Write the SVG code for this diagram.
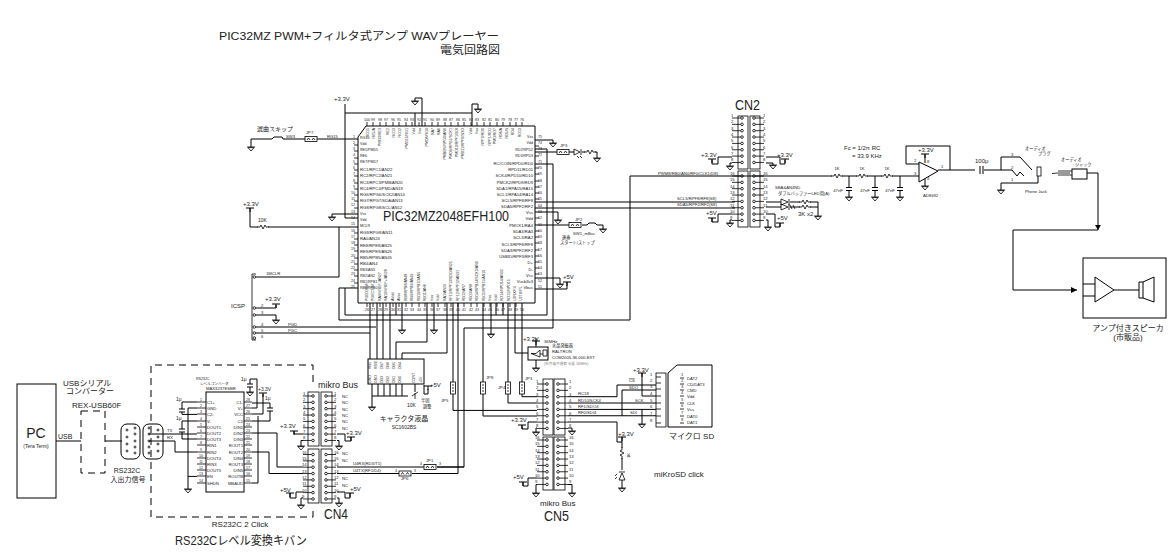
<svg xmlns="http://www.w3.org/2000/svg" width="1172" height="556" viewBox="0 0 1172 556">
<style>
text{font-family:"Liberation Sans","Noto Sans CJK JP",sans-serif;fill:#222}
.w{fill:none;stroke:#000;stroke-width:1}
.n{fill:none;stroke:#000;stroke-width:.8}
.b{fill:#fff;stroke:#000;stroke-width:1}
.d{fill:none;stroke:#000;stroke-width:1;stroke-dasharray:7 5}
.t3{font-size:3.6px}.t4{font-size:4.2px}.t5{font-size:5px}.t6{font-size:6px}.t7{font-size:7px}.t8{font-size:8px}.t9{font-size:9px}.t10{font-size:10px}.t11{font-size:11px}.t12{font-size:12px}.t14{font-size:14px}.t16{font-size:16px}
.m{text-anchor:middle}.e{text-anchor:end}
.k{fill:#000}
</style>
<defs>
<path id="gnd" class="n" d="M-4 0H4M-3 .6H3L0 4Z"/>
<path id="pwr" class="w" d="M-4 0H4M0 0V4"/>
<path id="rh" class="n" d="M-6 0H-3L-2 -2L0 2L2 -2L3 0H6"/>
<path id="rv" class="n" d="M0 -6V-3L-2 -2L2 0L-2 2L0 3V6"/>
<path id="cv" class="w" d="M-3 -1.5H3M-3 1.5H3"/>
<g id="jh"><rect class="n" x="0" y="-2.500" width="12" height="5" fill="#fff"/><path class="n" d="M2 1L3.500 -1L5 1M7 1L8.500 -1L10 1"/></g>
<g id="jv"><rect class="n" x="-2.500" y="-6" width="5" height="12" fill="#fff"/><path class="n" d="M-1 -3H1M-1 0H1M-1 3H1"/></g>
<path id="stL" class="n" d="M-10 0H-1.300M-1.300 0a1.300 1.300 0 1 0 2.600 0a1.300 1.300 0 1 0 -2.600 0"/>
<path id="stR" class="n" d="M10 0H1.300M-1.300 0a1.300 1.300 0 1 0 2.600 0a1.300 1.300 0 1 0 -2.600 0"/>
<g id="hL"><use href="#stL"/><use href="#stL" y="6.35"/><use href="#stL" y="12.7"/><use href="#stL" y="19.05"/><use href="#stL" y="25.4"/><use href="#stL" y="31.75"/><use href="#stL" y="38.1"/><use href="#stL" y="44.45"/></g>
<g id="hR"><use href="#stR"/><use href="#stR" y="6.35"/><use href="#stR" y="12.7"/><use href="#stR" y="19.05"/><use href="#stR" y="25.4"/><use href="#stR" y="31.75"/><use href="#stR" y="38.1"/><use href="#stR" y="44.45"/></g>
<g id="nU" class="t4"><text y="-1">1</text><text y="5.4">2</text><text y="11.7">3</text><text y="18">4</text><text y="24.4">5</text><text y="30.7">6</text><text y="37.1">7</text><text y="43.4">8</text></g>
<g id="nD" class="t4"><text y="-1">16</text><text y="5.4">15</text><text y="11.7">14</text><text y="18">13</text><text y="24.4">12</text><text y="30.7">11</text><text y="37.1">10</text><text y="43.4">9</text></g>
</defs>

<g id="title">
<text class="t11" x="219" y="40" textLength="280" lengthAdjust="spacingAndGlyphs">PIC32MZ PWM+フィルタ式アンプ WAVプレーヤー</text>
<text class="t11" x="440" y="54" textLength="60" lengthAdjust="spacingAndGlyphs">電気回路図</text>
</g>

<g id="connectors">
<path class="w" d="M345 104V218H358M345 113H472M415 113V126M422 126V98H415V101M472 126V104H478V109"/>
<path class="w" d="M251 139V147M251 139H272M283 139H305M317 139H358"/>
<path class="w" d="M250 208V227H258M268 227H358M332 214H358M332 214V217M339 227V277H256"/>
<path class="w" d="M358 288H339V320H630V176H832M842 176H857M867 176H882M892 176H919M345 288V315H547M547 149V315M535 149H547"/>
<path class="w" d="M535 140H553V143M535 152H557M569 152H574M582 152H585M595 152H597V158M535 164H553V328H464V467H437"/>
<path class="w" d="M535 212H558V220M535 225H569M582 225H587M597 225H603V229M535 202H735M535 208H735M535 278H560V284M535 289H567V282"/>
<path class="w" d="M370 303V359M377 303V359M383 303V359M390 303V359M427 303V342H396V359M447 303V353H402V359M453 303V382M453 394V410.4H537M458 303V473.5H412M483 303V382M483 394V416H537M508 303V382M508 394V403H537M522 303V382M522 394V396.7H537M515 303V353H528"/>
<path class="w" d="M402 303V330M434 303V330M491 303V334M396 303V315M496 303V315M503 303V315"/>
<path class="w" d="M256 327H376M256 333H370"/>
<path class="w" d="M256 308H276V305M256 315H276V320"/>
<path class="w" d="M732 157H718V164H712V160M766 157H780V164H785V160M732 163H730V166M766 163H773V165M732 214H718V222H712V218M732 220H730V223M766 220H768V227M766 214H775V227H780V223"/>
<path class="w" d="M766 202H781M766 207H781M790 202H800M790 207H800M810 202H818V216M810 207H818"/>
<path class="w" d="M849 176V187M849 191V197M875 176V187M875 191V197M900 176V187M900 191V197"/>
<path class="w" d="M919 164H906V146H950V170M938 170H975M984 170H1001V157H1020L1032 170M1001 170H1012L1017 176L1020 172L1024 176M1001 183H1038V176M1001 183V190"/>
<path class="w" d="M925 154V163M925 179V186"/>
<path class="w" d="M1087 173H1098V230H1013V290H1077"/>
<path class="k" d="M1095 225H1101L1098 230ZM1071 287L1077 290L1071 293Z"/>
<path class="w" d="M56 441H81M105 441H122M149 434H197M149 441H175V452H197M197 402H182V409M182 412V414.4H197M197 421H182V429M182 432V439H197M197 408H188V489M188 476.4H197"/>
<path class="w" d="M252 408H257V379H250V384M250 387V392M252 414H263V394M252 421H270V411M270 408V403H252M252 433H277V467H303M252 452H269V473.5H303M252 483H258V416"/>
<path class="w" d="M294 431V434H303M303 440.5H301V446M337 440.5H339V446M337 434H345V441H351V437M303 492H296V498H290V493M303 498H301V505M337 498H339V503M337 492H345V498H350V493"/>
<path class="w" d="M337 467H424M437 467H464M337 473.5H399"/>
<path class="w" d="M372 384V396H408M372 396V407M378 384V396M384 384V396M390 384V396M396 384V396M402 384V396M415 384V392M424 385V394H428V389"/>
<path class="w" d="M536 347V338M536 360V368"/>
<path class="w" d="M537 422H528V429H522V425M537 428H536V432M537 478H528V486H523V482M537 484.5H536V493M568 428H572V431M568 484.5H572V493"/>
<path class="w" d="M568 396.7H617V385H656M568 403H656M568 409.4H656M568 415.75H656M622 415.75V390H656M642 373V396H656M642 409.4V424M568 422H617V442H622M622 437V448M622 458V470M622 480V488"/>
</g>

<g id="U1">
<path class="b" d="M358 137L366 126H535V303H358Z"/>
<path class="n" d="M354 145H358M354 151H358M354 158H358M354 164H358M354 170H358M354 176H358M354 183H358M354 189H358M354 195H358M354 201H358M354 208H358M354 233H358M354 239H358M354 245H358M354 251H358M354 258H358M354 264H358M354 270H358M354 276H358M354 283H358"/>
<path class="n" d="M367 122V126M373 122V126M380 122V126M386 122V126M393 122V126M399 122V126M406 122V126M412 122V126M419 122V126M425 122V126M432 122V126M438 122V126M445 122V126M451 122V126M458 122V126M464 122V126M471 122V126M477 122V126M484 122V126M490 122V126M497 122V126M503 122V126M510 122V126M516 122V126M522 122V126"/>
<path class="n" d="M535 146H539M535 156H539M535 168H539M535 174H539M535 181H539M535 187H539M535 193H539M535 199H539M535 218H539M535 231H539M535 237H539M535 243H539M535 250H539M535 256H539M535 262H539M535 268H539M535 274H539"/>
<path class="n" d="M367 303V307M373 303V307M380 303V307M386 303V307M393 303V307M399 303V307M406 303V307M412 303V307M419 303V307M425 303V307M432 303V307M438 303V307M445 303V307M451 303V307M458 303V307M464 303V307M471 303V307M477 303V307M484 303V307M490 303V307M497 303V307M503 303V307M510 303V307M516 303V307"/>
<text class="t14" x="383" y="221" textLength="126" lengthAdjust="spacingAndGlyphs">PIC32MZ2048EFH100</text>
<g class="t3 e">
<text x="355" y="138">1</text><text x="355" y="144">2</text><text x="355" y="150">3</text><text x="355" y="156">4</text><text x="355" y="163">5</text><text x="355" y="169">6</text><text x="355" y="175">7</text><text x="355" y="182">8</text><text x="355" y="188">9</text><text x="355" y="194">10</text><text x="355" y="200">11</text><text x="355" y="206">12</text><text x="355" y="213">13</text><text x="355" y="219">14</text><text x="355" y="225">15</text><text x="355" y="232">16</text><text x="355" y="238">17</text><text x="355" y="244">18</text><text x="355" y="250">19</text><text x="355" y="257">20</text><text x="355" y="263">21</text><text x="355" y="269">22</text><text x="355" y="275">23</text><text x="355" y="282">24</text><text x="355" y="288">25</text>
</g>
<g class="t3">
<text x="538" y="138">75</text><text x="538" y="144">74</text><text x="538" y="150">73</text><text x="538" y="156">72</text><text x="538" y="163">71</text><text x="538" y="169">70</text><text x="538" y="175">69</text><text x="538" y="182">68</text><text x="538" y="188">67</text><text x="538" y="194">66</text><text x="538" y="200">65</text><text x="538" y="207">64</text><text x="538" y="213">63</text><text x="538" y="219">62</text><text x="538" y="226">61</text><text x="538" y="232">60</text><text x="538" y="238">59</text><text x="538" y="244">58</text><text x="538" y="251">57</text><text x="538" y="257">56</text><text x="538" y="263">55</text><text x="538" y="269">54</text><text x="538" y="275">53</text><text x="538" y="282">52</text><text x="538" y="288">51</text>
</g>
<g class="t3">
<text x="360" y="139">RG15</text><text x="360" y="145">Vdd</text><text x="360" y="151">RE5/PMD5</text><text x="360" y="157">RE6</text><text x="360" y="163">RE7/PMD7</text>
<text x="360" y="171" class="t4">RC1/RPC1/AN22</text><text x="360" y="177" class="t4">RC2/RPC2/AN21</text><text x="360" y="184" class="t4">RC3/RPC3/PMB/AN20</text><text x="360" y="190" class="t4">RC4/RPC4/PMD/AN19</text><text x="360" y="196" class="t4">RG6/RPG6/SCK2/AN14</text><text x="360" y="202" class="t4">RG7/RPG7/SDA/AN13</text><text x="360" y="209" class="t4">RG8/RPG8/SCL/AN12</text>
<text x="360" y="215">Vss</text><text x="360" y="221">Vdd</text><text x="360" y="227">MCLR</text>
<text x="360" y="234" class="t4">RG9/RPG9/AN11</text><text x="360" y="240" class="t4">RA0/AN24</text><text x="360" y="247" class="t4">RE8/RPE8/AN25</text><text x="360" y="253" class="t4">RE9/RPE9/AN26</text><text x="360" y="259" class="t4">RB5/RPB5/AN45</text><text x="360" y="265" class="t4">RB4/AN4</text>
<text x="360" y="271">RB3/AN3</text><text x="360" y="277">RB2/AN2</text><text x="360" y="283">RB1/RPB1</text><text x="360" y="289">RB0/RPB0</text>
</g>
<g class="t3 e">
<text x="533" y="138">Vss</text><text x="533" y="144">Vdd</text><text x="533" y="151">RD2/RPD2</text><text x="533" y="157">RD3/RPD3</text>
<text x="533" y="165" class="t4">RC/COIN/RPD0/RD0</text><text x="533" y="171" class="t4">RPD11/RD11</text><text x="533" y="177" class="t4">SCK4/RPD10/RD10</text><text x="533" y="184" class="t4">PMCK2/RPD9/RD9</text><text x="533" y="190" class="t4">SDA1/RPA15/RA15</text><text x="533" y="196" class="t4">SCL1/RPA14/RA14</text><text x="533" y="202" class="t4">SCL5/RPF8/RF8</text><text x="533" y="208" class="t4">SDA5/RPF2/RF2</text>
<text x="533" y="214" class="t4">Vss</text><text x="533" y="220" class="t4">Vdd</text><text x="533" y="227" class="t4">PMCK1/RA4</text><text x="533" y="233" class="t4">SDA3/RA3</text><text x="533" y="239" class="t4">SCL3/RA2</text><text x="533" y="246" class="t4">SCL3/RPF8/RF8</text><text x="533" y="252" class="t4">SDA3/RPF2/RF2</text><text x="533" y="258" class="t4">USBID/RPF3/RF3</text><text x="533" y="264" class="t4">D+</text><text x="533" y="271" class="t4">D-</text><text x="533" y="277" class="t4">Vss</text><text x="533" y="283" class="t4">Vusb3v3</text><text x="533" y="289" class="t4">Vbus</text>
</g>
<g class="t3 m" id="U1-top">
<text x="367" y="121">100</text><text x="373" y="121">99</text><text x="380" y="121">98</text><text x="386" y="121">97</text><text x="393" y="121">96</text><text x="399" y="121">95</text><text x="406" y="121">94</text><text x="412" y="121">93</text><text x="419" y="121">92</text><text x="425" y="121">91</text><text x="432" y="121">90</text><text x="438" y="121">89</text><text x="445" y="121">88</text><text x="451" y="121">87</text><text x="458" y="121">86</text><text x="464" y="121">85</text><text x="471" y="121">84</text><text x="477" y="121">83</text><text x="484" y="121">82</text><text x="490" y="121">81</text><text x="497" y="121">80</text><text x="503" y="121">79</text><text x="510" y="121">78</text><text x="516" y="121">77</text><text x="522" y="121">76</text>
</g>
<g class="t3 e" id="U1-topv">
<text transform="translate(369 128) rotate(-90)">RG15</text>
<text transform="translate(375 128) rotate(-90)">RE5/A</text>
<text transform="translate(381 128) rotate(-90)">PMD3/RE3</text>
<text transform="translate(389 128) rotate(-90)">RE2</text>
<text transform="translate(395 128) rotate(-90)">RG13</text>
<text transform="translate(401 128) rotate(-90)">RG12</text>
<text transform="translate(408 128) rotate(-90)">PMD13/RG1</text>
<text transform="translate(415 128) rotate(-90)">Vdd</text>
<text transform="translate(421 128) rotate(-90)">Vss</text>
<text transform="translate(428 128) rotate(-90)">PMD8/RG0</text>
<text transform="translate(434 128) rotate(-90)">RA7</text>
<text transform="translate(440 128) rotate(-90)">RA6</text>
<text transform="translate(446 128) rotate(-90)">PMBEN/RPG0/AN6</text>
<text transform="translate(452 128) rotate(-90)">PMD9/RPG1/SCK1</text>
<text transform="translate(458 128) rotate(-90)">PMD10/RPF1/SDI</text>
<text transform="translate(464 128) rotate(-90)">PMD11/RPF0/SDO</text>
<text transform="translate(472 128) rotate(-90)">Vdd</text>
<text transform="translate(478 128) rotate(-90)">Vss</text>
<text transform="translate(484 128) rotate(-90)">RPF0/RD0</text>
<text transform="translate(491 128) rotate(-90)">RPF1/RD1</text>
<text transform="translate(496 128) rotate(-90)">PMD/RD7</text>
<text transform="translate(502 128) rotate(-90)">RD6/A</text>
<text transform="translate(508 128) rotate(-90)">RD5/B</text>
<text transform="translate(514 128) rotate(-90)">RD4</text>
<text transform="translate(521 128) rotate(-90)">RD13</text>
</g>
<g class="t3 m">
<text x="367" y="311">26</text><text x="373" y="311">27</text><text x="380" y="311">28</text><text x="386" y="311">29</text><text x="393" y="311">30</text><text x="399" y="311">31</text><text x="406" y="311">32</text><text x="412" y="311">33</text><text x="419" y="311">34</text><text x="425" y="311">35</text><text x="432" y="311">36</text><text x="438" y="311">37</text><text x="445" y="311">38</text><text x="451" y="311">39</text><text x="458" y="311">40</text><text x="464" y="311">41</text><text x="471" y="311">42</text><text x="477" y="311">43</text><text x="484" y="311">44</text><text x="490" y="311">45</text><text x="497" y="311">46</text><text x="503" y="311">47</text><text x="510" y="311">48</text><text x="516" y="311">49</text><text x="522" y="311">50</text>
</g>
<g class="t3" id="U1-botv">
<text transform="translate(368 301) rotate(-90)">PGED2/B6</text>
<text transform="translate(374 301) rotate(-90)">PGEC2/B7</text>
<text transform="translate(381 301) rotate(-90)">RA9/VREF-/AN27</text>
<text transform="translate(387 301) rotate(-90)">RA10/VREF+/AN28</text>
<text transform="translate(394 301) rotate(-90)">AVdd</text>
<text transform="translate(400 301) rotate(-90)">AVss</text>
<text transform="translate(407 301) rotate(-90)">RB8/RPB8/AN48</text>
<text transform="translate(413 301) rotate(-90)">RB9/RPB9/AN49</text>
<text transform="translate(420 301) rotate(-90)">RB10/RPB10/AN5</text>
<text transform="translate(426 301) rotate(-90)">RB11/AN6</text>
<text transform="translate(433 301) rotate(-90)">Vss</text>
<text transform="translate(439 301) rotate(-90)">Vdd</text>
<text transform="translate(446 301) rotate(-90)">RA1/AN29</text>
<text transform="translate(452 301) rotate(-90)">RF13/RPF13/SDO/AN25</text>
<text transform="translate(459 301) rotate(-90)">RF12/RPF12/AN31</text>
<text transform="translate(465 301) rotate(-90)">RB12/AN7</text>
<text transform="translate(472 301) rotate(-90)">RB13/AN8</text>
<text transform="translate(478 301) rotate(-90)">RB14/RPB14/SCK3/AN9</text>
<text transform="translate(485 301) rotate(-90)">RB15/RPB15/AN10</text>
<text transform="translate(491 301) rotate(-90)">Vss</text>
<text transform="translate(497 301) rotate(-90)">Vdd</text>
<text transform="translate(503 301) rotate(-90)">RD14/RPD14/AN32</text>
<text transform="translate(510 301) rotate(-90)">RD15/RPD15</text>
<text transform="translate(516 301) rotate(-90)">U2RX/F4</text>
<text transform="translate(522 301) rotate(-90)">U2TX/F5</text>
</g>
</g>

<g id="top-power">
<text class="t6" x="334" y="101">+3.3V</text>
<use href="#gnd" x="415" y="101"/><use href="#gnd" x="478" y="109"/><use href="#gnd" x="553" y="143"/><use href="#gnd" x="332" y="217"/><use href="#gnd" x="558" y="220"/><use href="#gnd" x="560" y="284"/><use href="#pwr" x="567" y="282"/>
<text class="t6" x="563" y="279">+5V</text>
<use href="#gnd" x="402" y="330"/><use href="#gnd" x="434" y="330"/><use href="#gnd" x="491" y="334"/>
</g>

<g id="SW-skip">
<use href="#gnd" x="251" y="147"/>
<path class="w" d="M272 139l2 -2h8l1 2"/>
<text class="t6" x="257" y="131">選曲スキップ</text>
<text class="t4" x="286" y="138">SW3</text>
<use href="#jh" x="305" y="139"/>
<text class="t4" x="306" y="134">JP7</text>
<text class="t4" x="327" y="138">RG15</text>
</g>

<g id="LED-JP3">
<use href="#jh" x="557" y="152"/>
<text class="t4" x="560" y="147">JP3</text>
<path class="n" d="M574 149V155L580 152ZM581 149V155M577 156l2 2M580 156l2 2"/>
<use href="#rh" x="590" y="152"/>
<use href="#gnd" x="597" y="158"/>
</g>

<g id="JP2-SW">
<use href="#jh" x="569" y="225"/>
<text class="t4" x="575" y="221">JP2</text>
<path class="w" d="M587 225l2 -2h6l2 2"/>
<use href="#gnd" x="603" y="229"/>
<text class="t4" x="573" y="235">SW1_mBss</text>
<text class="t4" x="562" y="239">連奏</text>
<text class="t4" x="560" y="244">スタート/ストップ</text>
</g>

<g id="MCLR">
<use href="#pwr" x="250" y="208"/>
<text class="t6" x="243" y="206">+3.3V</text>
<use href="#rh" x="263" y="227"/>
<text class="t5" x="258" y="222">10K</text>
</g>

<g id="ICSP">
<path class="n" d="M256 274H252V340H256"/>
<path class="n" d="M253 277a1.300 1.300 0 1 0 2.600 0a1.300 1.300 0 1 0 -2.600 0M253 308a1.300 1.300 0 1 0 2.600 0a1.300 1.300 0 1 0 -2.600 0M253 315a1.300 1.300 0 1 0 2.600 0a1.300 1.300 0 1 0 -2.600 0M253 327a1.300 1.300 0 1 0 2.600 0a1.300 1.300 0 1 0 -2.600 0M253 333a1.300 1.300 0 1 0 2.600 0a1.300 1.300 0 1 0 -2.600 0M253 338a1.300 1.300 0 1 0 2.600 0a1.300 1.300 0 1 0 -2.600 0"/>
<text class="t6" x="231" y="308">ICSP</text>
<text class="t4" x="266" y="275">1MCLR</text>
<text class="t6" x="265" y="301">+3.3V</text>
<use href="#pwr" x="276" y="304"/>
<use href="#gnd" x="276" y="320"/>
<g class="t4"><text x="261" y="307">2</text><text x="261" y="314">3</text><text x="261" y="326">4</text><text x="261" y="332">5</text><text x="261" y="338">6</text></g>
<text class="t4" x="288" y="326">PGD</text><text class="t4" x="288" y="332">PGC</text>
</g>

<g id="CN2">
<text class="t14" x="735" y="110" textLength="25" lengthAdjust="spacingAndGlyphs">CN2</text>
<rect class="n" x="738" y="116" width="10" height="53"/><rect class="n" x="750" y="116" width="10" height="53"/><rect class="n" x="738" y="171" width="10" height="56"/><rect class="n" x="750" y="171" width="10" height="56"/>
<use href="#hL" x="742" y="118"/><use href="#hR" x="754" y="118"/><use href="#hL" x="742" y="176"/><use href="#hR" x="754" y="176"/>
<use href="#nU" x="731" y="118"/><use href="#nU" x="763" y="118"/><use href="#nD" x="730" y="176"/><use href="#nD" x="763" y="176"/>
<text class="t6" x="701" y="157">+3.3V</text><text class="t6" x="777" y="157">+3.3V</text><text class="t6" x="706" y="215">+5V</text><text class="t6" x="777" y="220">+5V</text>
<use href="#pwr" x="712" y="159"/><use href="#pwr" x="785" y="159"/><use href="#pwr" x="712" y="218"/><use href="#pwr" x="780" y="223"/>
<use href="#gnd" x="730" y="166"/><use href="#gnd" x="773" y="165"/><use href="#gnd" x="730" y="223"/><use href="#gnd" x="768" y="227"/>
<text class="t4" x="658" y="175">PWM8/RB0/AN0/RF0/CLK1(D8)</text>
<text class="t4" x="677" y="200">SCL5/RPF8/RF8(S8)</text>
<text class="t4" x="677" y="206">SDA5/RPF2/RF2(S8)</text>
<text class="t4" x="775" y="189">SBA&amp;AN4ND</text>
<text class="t4" x="778" y="195">ダブルバッファーLED用(A)</text>
<path class="n" d="M781 199V205L788 202ZM789 199V205M781 204V210L788 207ZM789 204V210M790 205l2 4M793 205l2 4"/>
<use href="#rh" x="805" y="202"/><use href="#rh" x="805" y="207"/>
<text class="t6" x="798" y="216">3K x2</text>
<use href="#gnd" x="818" y="216"/>
</g>

<g id="Filter">
<text class="t6" x="844" y="150">Fc = 1/2π RC</text><text class="t6" x="852" y="158">= 33.9 KHz</text>
<use href="#rh" x="837" y="176"/><use href="#rh" x="862" y="176"/><use href="#rh" x="887" y="176"/>
<g class="t4 m"><text x="837" y="170">1K</text><text x="862" y="170">1K</text><text x="887" y="170">1K</text><text x="838" y="192">47nF</text><text x="865" y="192">47nF</text><text x="890" y="192">47nF</text></g>
<use href="#cv" x="849" y="189"/><use href="#cv" x="875" y="189"/><use href="#cv" x="900" y="189"/>
<use href="#gnd" x="849" y="197"/><use href="#gnd" x="875" y="197"/><use href="#gnd" x="900" y="197"/>
</g>

<g id="OpAmp">
<path class="b" d="M919 162V182L938 171Z"/>
<text class="t6" x="918" y="152">+3.3V</text>
<use href="#pwr" x="925" y="154"/><use href="#gnd" x="925" y="186"/>
<g class="t4"><text x="914" y="162">2</text><text x="914" y="175">3</text><text x="927" y="163">8</text><text x="927" y="180">4</text><text x="941" y="168">1</text></g>
<text class="t4" x="923" y="197">AD8692</text>
<text class="t6" x="975" y="163">100μ</text>
<path class="w" d="M980 166V174M983 166V174"/>
</g>

<g id="PhoneJack">
<rect class="n" x="1037" y="167" width="4" height="9"/>
<g class="t4"><text x="1011" y="156">3</text><text x="1011" y="169">2</text><text x="1011" y="181">1</text></g>
<use href="#gnd" x="1001" y="190"/>
<text class="t4" x="1025" y="193">Phone Jack</text>
<text class="t4" x="1025" y="150">オーディオ</text><text class="t4" x="1038" y="155">プラグ</text>
</g>

<g id="AudioPlug">
<path class="n" d="M1070 173H1058L1052 173.500M1058 171H1072M1058 175H1072"/>
<rect class="w" x="1072" y="169" width="15" height="10"/>
<text class="t4" x="1061" y="161">オーディオ</text><text class="t4" x="1075" y="166">ジャック</text>
</g>

<g id="Speaker">
<rect class="w" x="1083" y="258" width="83" height="60"/>
<path class="w" d="M1083 284H1095M1083 296H1095M1095 277V302L1114 290ZM1114 290H1139M1139 282H1143V298H1139ZM1143 282L1154 277V302L1143 298"/>
<text class="t8 m" x="1128" y="331">アンプ付きスピーカ</text>
<text class="t8 m" x="1128" y="340">(市販品)</text>
</g>

<g id="PC">
<rect class="w" x="17" y="384" width="39" height="114"/>
<text class="t14 m" x="36" y="438">PC</text>
<text class="t5 m" x="36" y="448">(Tera Term)</text>
<text class="t7" x="58" y="439">USB</text>
</g>

<g id="USB-Serial">
<text class="t8" x="63" y="386">USBシリアル</text>
<text class="t8" x="66" y="394">コンバーター</text>
<text class="t8" x="72" y="408">REX-USB60F</text>
<rect class="d" x="81" y="411" width="24" height="62"/>
</g>

<g id="DB9">
<rect class="w" x="121" y="424" width="19" height="35" rx="6"/>
<rect class="w" x="143" y="424" width="20" height="35" rx="6"/>
<g class="n"><circle cx="127" cy="430" r="1"/><circle cx="135" cy="428" r="1"/><circle cx="127" cy="437" r="1"/><circle cx="135" cy="434" r="1"/><circle cx="127" cy="444" r="1"/><circle cx="135" cy="441" r="1"/><circle cx="127" cy="451" r="1"/><circle cx="135" cy="447" r="1"/><circle cx="135" cy="453" r="1"/><circle cx="149" cy="428" r="1"/><circle cx="158" cy="430" r="1"/><circle cx="149" cy="434" r="1"/><circle cx="158" cy="437" r="1"/><circle cx="149" cy="441" r="1"/><circle cx="158" cy="444" r="1"/><circle cx="149" cy="447" r="1"/><circle cx="158" cy="451" r="1"/><circle cx="149" cy="453" r="1"/></g>
<text class="t4" x="167" y="432">TX</text><text class="t4" x="167" y="439">RX</text>
<text class="t7 m" x="127" y="473">RS232C</text>
<text class="t7 m" x="128" y="482">入出力信号</text>
</g>

<g id="RS232C-Click">
<path class="d" d="M313 382V365H151V517H313V507"/>
<text class="t8 m" x="240" y="527">RS232C 2 Click</text>
<text class="t12" x="175" y="545" textLength="132" lengthAdjust="spacingAndGlyphs">RS232Cレベル変換キバン</text>
<rect class="w" x="206" y="392" width="38" height="100"/>
<text class="t3" x="196" y="380">RS232C</text><text class="t3" x="200" y="385">レベルコンバータ</text><text class="t4" x="206" y="390">MAX3237ESBR</text>
<path class="n" d="M197 402H206M197 408H206M197 414H206M197 421H206M197 427H206M197 433H206M197 439H206M197 445H206M197 452H206M197 458H206M197 464H206M197 470H206M197 476H206M197 483H206M244 402H252M244 408H252M244 414H252M244 421H252M244 427H252M244 433H252M244 439H252M244 445H252M244 452H252M244 458H252M244 464H252M244 470H252M244 476H252M244 483H252"/>
<g class="t3 m"><text x="201" y="401">1</text><text x="201" y="407">2</text><text x="201" y="413">3</text><text x="201" y="420">4</text><text x="201" y="426">5</text><text x="201" y="432">6</text><text x="201" y="438">7</text><text x="201" y="444">8</text><text x="201" y="451">9</text><text x="201" y="457">10</text><text x="201" y="463">11</text><text x="201" y="469">12</text><text x="201" y="475">13</text><text x="201" y="482">14</text>
<text x="248" y="401">28</text><text x="248" y="407">27</text><text x="248" y="413">26</text><text x="248" y="420">25</text><text x="248" y="426">24</text><text x="248" y="432">23</text><text x="248" y="438">22</text><text x="248" y="444">21</text><text x="248" y="451">20</text><text x="248" y="457">19</text><text x="248" y="463">18</text><text x="248" y="469">17</text><text x="248" y="475">16</text><text x="248" y="482">15</text></g>
<g class="t4"><text x="207" y="404">C1+</text><text x="207" y="410">GND</text><text x="207" y="416">C2-</text><text x="207" y="423">V-</text><text x="207" y="429">DOUT1</text><text x="207" y="435">DOUT2</text><text x="207" y="441">DOUT3</text><text x="207" y="447">RIN1</text><text x="207" y="454">RIN2</text><text x="207" y="460">DOUT4</text><text x="207" y="466">RIN3</text><text x="207" y="472">DOUT5</text><text x="207" y="478">EN</text><text x="207" y="485">SHDN</text></g>
<g class="t4 e"><text x="243" y="404">C1-</text><text x="243" y="410">V+</text><text x="243" y="416">VCC</text><text x="243" y="423">C1</text><text x="243" y="429">DIN1</text><text x="243" y="435">DIN2</text><text x="243" y="441">DIN3</text><text x="243" y="447">ROUT1</text><text x="243" y="454">ROUT2</text><text x="243" y="460">DIN4</text><text x="243" y="466">ROUT3</text><text x="243" y="472">DIN5</text><text x="243" y="478">ROUTB</text><text x="243" y="485">MBAUD</text></g>
<use href="#cv" x="182" y="410.500"/><use href="#cv" x="182" y="430.500"/><use href="#cv" x="250" y="385.500"/><use href="#cv" x="270" y="409.500"/>
<use href="#gnd" x="188" y="489"/><use href="#gnd" x="250" y="392"/><use href="#pwr" x="263" y="393"/>
<g class="t5"><text x="176" y="401">1μ</text><text x="176" y="420">1μ</text><text x="241" y="381">1μ</text><text x="265" y="400">1μ</text></g>
<text class="t5" x="258" y="391">+3.3V</text>
</g>

<g id="CN4">
<rect class="n" x="308" y="392" width="11" height="54"/><rect class="n" x="321" y="392" width="11" height="54"/><rect class="n" x="308" y="449" width="11" height="54"/><rect class="n" x="321" y="449" width="11" height="54"/>
<use href="#hL" x="313" y="396"/><use href="#hR" x="326" y="396"/><use href="#hL" x="313" y="454.500"/><use href="#hR" x="326" y="454.500"/>
<use href="#nU" x="303" y="396"/><use href="#nU" x="334" y="396"/><use href="#nD" x="302" y="454.500"/><use href="#nD" x="334" y="454.500"/>
<text class="t9" x="318" y="388">mikro Bus</text>
<g class="t4"><text x="342" y="398">NC</text><text x="342" y="404">NC</text><text x="342" y="411">NC</text><text x="342" y="417">NC</text><text x="342" y="423">NC</text><text x="342" y="430">NC</text><text x="342" y="455">NC</text><text x="342" y="462">NC</text><text x="342" y="480">NC</text><text x="342" y="487">NC</text></g>
<text class="t6" x="280" y="428">+3.3V</text><text class="t6" x="346" y="435">+3.3V</text><text class="t6" x="280" y="492">+5V</text><text class="t6" x="350" y="491">+5V</text>
<use href="#pwr" x="294" y="431"/><use href="#pwr" x="351" y="437"/><use href="#pwr" x="290" y="493"/><use href="#pwr" x="350" y="493"/>
<use href="#gnd" x="301" y="446"/><use href="#gnd" x="339" y="446"/><use href="#gnd" x="301" y="505"/><use href="#gnd" x="339" y="503"/>
<text class="t14" x="324" y="519" textLength="24" lengthAdjust="spacingAndGlyphs">CN4</text>
<text class="t4" x="353" y="465">U4RX(RD3/T1)</text><text class="t4" x="353" y="472">U4TX(RF1/D4)</text>
<use href="#jh" x="424" y="467"/><text class="t4" x="426" y="462">JP1</text><text class="t3" x="420" y="465">4</text><text class="t3" x="439" y="465">3</text>
<use href="#jh" x="399" y="473.500"/><text class="t4" x="401" y="480">JP6</text><text class="t3" x="395" y="472">4</text><text class="t3" x="414" y="472">3</text>
</g>

<g id="LCD">
<rect class="w" x="368" y="359" width="56" height="25"/>
<g class="t3"><text transform="translate(371 369) rotate(-90)">RB5</text><text transform="translate(377 369) rotate(-90)">RS/E</text><text transform="translate(383 369) rotate(-90)">DB7</text><text transform="translate(389 369) rotate(-90)">DB6</text><text transform="translate(395 369) rotate(-90)">DB5</text><text transform="translate(401 369) rotate(-90)">DB4</text>
<text transform="translate(371 383) rotate(-90)">GND</text><text transform="translate(377 383) rotate(-90)">GND</text><text transform="translate(383 383) rotate(-90)">DB3</text><text transform="translate(389 383) rotate(-90)">DB2</text><text transform="translate(395 383) rotate(-90)">DB1</text><text transform="translate(401 383) rotate(-90)">DB0</text><text transform="translate(415 383) rotate(-90)">CONT</text><text transform="translate(422 383) rotate(-90)">+5V</text></g>
<use href="#gnd" x="372" y="407"/>
<use href="#pwr" x="428" y="386"/><text class="t6" x="430" y="387">+5V</text>
<path class="n" d="M412 396L418 392M415 393V399"/>
<text class="t5" x="407" y="407">10K</text><text class="t4" x="421" y="402">半固</text><text class="t4" x="423" y="408">調整</text>
<text class="t7 m" x="404" y="421">キャラクタ液晶</text><text class="t5 m" x="404" y="429">SC1602BS</text>
</g>

<g id="Jumpers">
<use href="#jv" x="453" y="388"/><use href="#jv" x="483" y="388"/><use href="#jv" x="508" y="388"/><use href="#jv" x="522" y="388"/>
<text class="t4" x="441" y="402">JP5</text><text class="t4" x="486" y="379">JP8</text><text class="t4" x="498" y="389">JP4</text><text class="t4" x="525" y="380">JP3</text>
</g>

<g id="Crystal">
<rect class="w" x="528" y="347" width="20" height="13"/>
<path class="n" d="M531 353.500H536L540 350V357ZM543 350H547V356H543ZM540 354H543"/>
<text class="t6" x="523" y="341">+3.3V</text>
<use href="#pwr" x="536" y="341"/><use href="#gnd" x="536" y="368"/>
<g class="t4"><text x="544" y="343">36MHz</text><text x="552" y="347">水晶発振器</text><text x="552" y="353">RALTRON</text><text x="552" y="359">COM2005-36.000-EXT</text></g>
<text class="t3" x="544" y="365" style="fill:#888">(秋月電子通商 水晶 36MHz)</text>
</g>

<g id="CN5">
<rect class="n" x="543" y="379" width="10" height="56"/><rect class="n" x="554" y="379" width="11" height="56"/><rect class="n" x="543" y="437" width="10" height="53"/><rect class="n" x="554" y="437" width="11" height="53"/>
<use href="#hL" x="547" y="384"/><use href="#hR" x="558" y="384"/><use href="#hL" x="547" y="440"/><use href="#hR" x="558" y="440"/>
<use href="#nU" x="536" y="384"/><use href="#nU" x="569" y="384"/><use href="#nD" x="535" y="440"/><use href="#nD" x="569" y="440"/>
<text class="t6" x="511" y="422">+3.3V</text><text class="t6" x="513" y="479">+5V</text>
<use href="#pwr" x="522" y="425"/><use href="#pwr" x="523" y="482"/>
<use href="#gnd" x="536" y="432"/><use href="#gnd" x="536" y="493"/><use href="#gnd" x="572" y="431"/><use href="#gnd" x="572" y="493"/>
<text class="t8" x="540" y="506">mikro Bus</text>
<text class="t14" x="544" y="521" textLength="25" lengthAdjust="spacingAndGlyphs">CN5</text>
<g class="t4"><text x="578" y="395">RC18</text><text x="578" y="402">RD10/SCK4</text><text x="578" y="408">RF1/SDO4</text><text x="578" y="414">RF0/SDI4</text></g>
</g>

<g id="MicroSD">
<rect class="n" x="656" y="373" width="10" height="54"/>
<path class="n" d="M656 377H661M656 383H661M656 389H661M656 396H661M656 403H661M656 409H661M656 416H661M656 423H661"/>
<g class="t4"><text x="650" y="376">1</text><text x="650" y="382">2</text><text x="650" y="388">3</text><text x="650" y="395">4</text><text x="650" y="402">5</text><text x="650" y="408">6</text><text x="650" y="415">7</text><text x="650" y="422">8</text></g>
<path class="w" d="M668 373L677 365H712V427H668Z"/>
<path class="n" d="M680 378H684M680 384H684M680 390H684M680 396H684M680 403H684M680 409H684M680 416H684M680 423H684"/>
<g class="t4"><text x="681" y="376">1</text><text x="681" y="382">2</text><text x="681" y="388">3</text><text x="681" y="394">4</text><text x="681" y="401">5</text><text x="681" y="407">6</text><text x="681" y="414">7</text><text x="681" y="421">8</text>
<text x="687" y="380">DAT2</text><text x="687" y="386">CD/DAT3</text><text x="687" y="392">CMD</text><text x="687" y="398">Vdd</text><text x="687" y="405">CLK</text><text x="687" y="411">Vss</text><text x="687" y="418">DAT0</text><text x="687" y="424">DAT1</text></g>
<text class="t8" x="669" y="439">マイクロ SD</text>
<text class="t8" x="654" y="477">miKroSD click</text>
<text class="t6" x="633" y="372">+3.3V</text>
<use href="#pwr" x="642" y="373"/><use href="#gnd" x="642" y="424"/>
<g class="t4"><text x="629" y="382" text-decoration="overline">CS</text><text x="629" y="389">SDO</text><text x="635" y="402">SCK</text><text x="630" y="414">SDI</text></g>
</g>

<g id="LED-SD">
<text class="t6" x="618" y="436">+3.3V</text>
<use href="#pwr" x="622" y="437"/><use href="#rv" x="622" y="453"/>
<text class="t4" transform="translate(630 458) rotate(-90)">1K</text>
<path class="n" d="M619 480H625L622 473ZM619 472H625M617 477l-2 2M617 474l-2 2"/>
<use href="#gnd" x="622" y="488"/>
</g>
</svg>
